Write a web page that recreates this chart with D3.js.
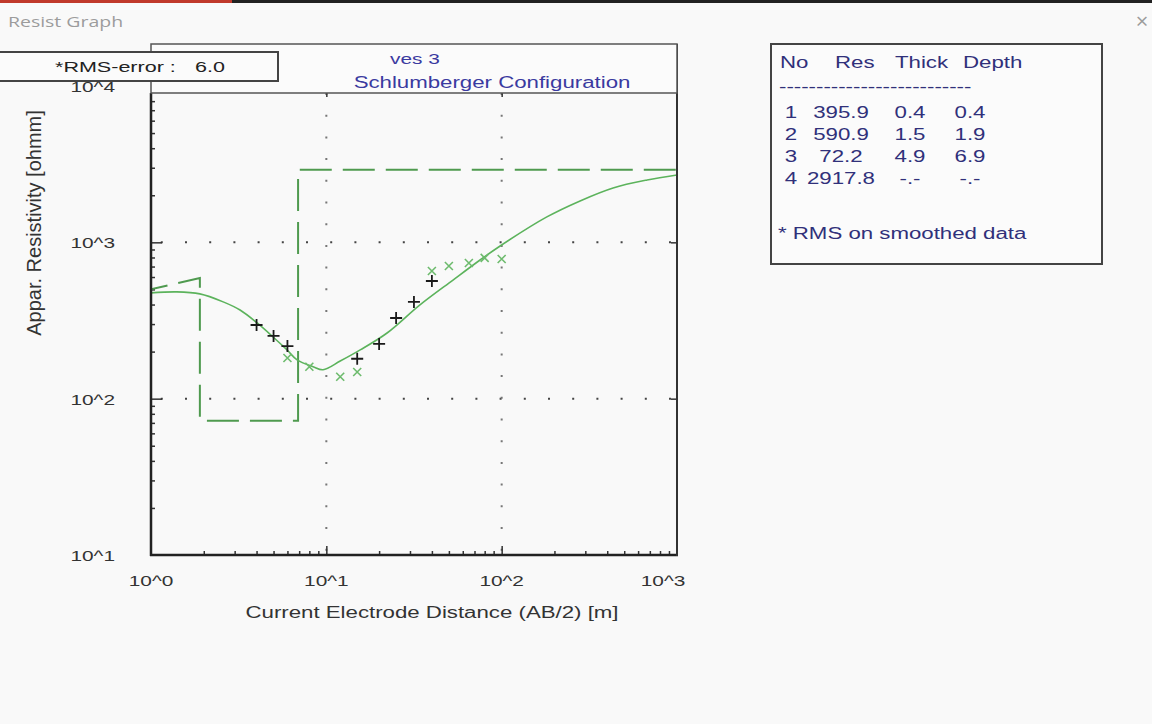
<!DOCTYPE html>
<html>
<head>
<meta charset="utf-8">
<script src="https://cdn.jsdelivr.net/npm/d3@7"></script>
<style>
  html, body { margin: 0; padding: 0; background: #f9f9f9; }
  svg { display: block; font-family: "Liberation Sans", Arial, sans-serif; }
</style>
</head>
<body>
<div id="chart"></div>
<script>
// layer model (table on the right)
const layerNo = [1, 2, 3, 4];
const layerRes = [395.9, 590.9, 72.2, 2917.8];
const layerThick = ["0.4", "1.5", "4.9", "-.-"];
const layerDepth = [0.4, 1.9, 6.9, null];

// calculated curve (solid green)
const calcAB = [1.0, 1.4, 1.9, 2.58, 3.22, 4.03, 4.97, 5.97, 6.81, 8.4, 9.57, 12.0, 15.6, 22.2, 34.2, 52.8, 75.3, 98, 181, 280, 432, 675, 1000];
const calcRho = [475, 482, 468, 416, 369, 305, 248, 205, 177, 160, 153, 174, 205, 263, 398, 574, 771, 948, 1454, 1841, 2228, 2507, 2699];

// field data (+) and smoothed data (x)
const obsAB = [4, 5, 6, 15, 20, 25, 31.6, 40];
const obsRho = [296, 252, 217, 180, 224, 328, 416, 566];
const smAB = [6, 8, 12, 15, 40, 50, 65, 80, 100];
const smRho = [182, 160, 138, 148, 656, 706, 738, 795, 783];

const xTicks = [1, 10, 100, 1000];
const yTicks = [10, 100, 1000, 10000];
const tickLabel = (d) => "10^" + Math.round(Math.log10(d));

const W = 1152, H = 724;
const SX = 1.39; // screenshot is stretched sideways

const svg = d3.select("#chart").append("svg").attr("width", W).attr("height", H);
svg.append("rect").attr("width", W).attr("height", H).attr("fill", "#f9f9f9");

// helper for horizontally stretched text
function txt(x, y, s, fill, anchor, size) {
  return svg.append("text")
    .attr("transform", `translate(${x},${y}) scale(${SX},1)`)
    .attr("text-anchor", anchor || "start")
    .attr("font-size", size || 16)
    .attr("fill", fill)
    .text(s);
}

// window chrome
svg.append("rect").attr("x", 0).attr("y", 0).attr("width", 232).attr("height", 3).attr("fill", "#c0392b");
svg.append("rect").attr("x", 232).attr("y", 0).attr("width", W - 232).attr("height", 3).attr("fill", "#222");
txt(8, 27, "Resist Graph", "#9c9c9c", "start", 14).attr("font-family", "Open Sans");
svg.append("text").attr("x", 1142).attr("y", 29).attr("text-anchor", "middle")
  .attr("font-size", 22).attr("fill", "#9c9c9c").attr("font-family", "Open Sans").text("×");

// scales
const x = d3.scaleLog().domain([1, 1000]).range([151, 677]);
const y = d3.scaleLog().domain([10, 10000]).range([555, 86]);
const plotTop = 93;

svg.append("clipPath").attr("id", "clip").append("rect")
  .attr("x", 151).attr("y", plotTop).attr("width", 526).attr("height", 555 - plotTop);

// dotted grid
const grid = svg.append("g");
[100, 1000].forEach((v) => {
  grid.append("line").attr("x1", 151).attr("x2", 677).attr("y1", y(v)).attr("y2", y(v))
    .attr("stroke", "#444").attr("stroke-width", 2)
    .attr("stroke-dasharray", "2,22.2").attr("stroke-dashoffset", -9.8);
});
[10, 100].forEach((v) => {
  grid.append("line").attr("x1", x(v)).attr("x2", x(v)).attr("y1", plotTop).attr("y2", 555)
    .attr("stroke", "#777").attr("stroke-width", 2)
    .attr("stroke-dasharray", "2,19.7");
});

// ticks
const minorX = [], minorY = [];
[1, 10, 100].forEach((b) => { for (let k = 2; k <= 9; k++) minorX.push(b * k); });
[10, 100, 1000].forEach((b) => { for (let k = 2; k <= 9; k++) if (y(b * k) > plotTop + 2) minorY.push(b * k); });

function tickAxis(axis, tr) {
  const g = svg.append("g").attr("transform", tr).call(axis);
  g.select(".domain").remove();
  g.selectAll(".tick line").attr("stroke", "#333").attr("stroke-width", 1.5);
  return g;
}
tickAxis(d3.axisBottom(x).tickValues(minorX).tickSize(-4).tickFormat(""), "translate(0,555)");
tickAxis(d3.axisBottom(x).tickValues([10, 100]).tickSize(-9).tickFormat(""), "translate(0,555)");
tickAxis(d3.axisTop(x).tickValues([10, 100]).tickSize(-4).tickFormat(""), `translate(0,${plotTop})`);
tickAxis(d3.axisLeft(y).tickValues(minorY).tickSize(-4).tickFormat(""), "translate(151,0)");
tickAxis(d3.axisLeft(y).tickValues([100, 1000]).tickSize(-11).tickFormat(""), "translate(151,0)");
tickAxis(d3.axisRight(y).tickValues([100, 1000]).tickSize(-6).tickFormat(""), "translate(677,0)");

// model (dashed step line)
const modelPts = [[layerDepth[0], layerRes[0]]];
for (let i = 1; i < layerRes.length - 1; i++) {
  modelPts.push([layerDepth[i], layerRes[i]]);
  modelPts.push([layerDepth[i], layerRes[i + 1]]);
}
modelPts.push([x.domain()[1], layerRes[layerRes.length - 1]]);

const plot = svg.append("g").attr("clip-path", "url(#clip)");
plot.append("path")
  .attr("d", d3.line().x((d) => x(d[0])).y((d) => y(d[1]))(modelPts))
  .attr("fill", "none").attr("stroke", "#4f9a4f").attr("stroke-width", 2)
  .attr("stroke-dasharray", "32,11").attr("stroke-dashoffset", 29.5);

// calculated curve
const calc = calcAB.map((d, i) => [d, calcRho[i]]);
plot.append("path")
  .attr("d", d3.line().x((d) => x(d[0])).y((d) => y(d[1])).curve(d3.curveCatmullRom.alpha(0.5))(calc))
  .attr("fill", "none").attr("stroke", "#5cb35c").attr("stroke-width", 1.6);

// smoothed data x
smAB.forEach((d, i) => {
  plot.append("path")
    .attr("transform", `translate(${x(d)},${y(smRho[i])})`)
    .attr("d", "M-4,-4L4,4M-4,4L4,-4")
    .attr("stroke", "#6dbb6d").attr("stroke-width", 1.6).attr("fill", "none");
});
// field data +
obsAB.forEach((d, i) => {
  plot.append("path")
    .attr("transform", `translate(${x(d)},${y(obsRho[i])})`)
    .attr("d", "M-6,0H6M0,-6V6")
    .attr("stroke", "#1a1a1a").attr("stroke-width", 1.8).attr("fill", "none");
});

// frame
svg.append("line").attr("x1", 151).attr("x2", 151).attr("y1", plotTop).attr("y2", 556)
  .attr("stroke", "#222").attr("stroke-width", 2.5);
svg.append("line").attr("x1", 150).attr("x2", 678).attr("y1", 555).attr("y2", 555)
  .attr("stroke", "#222").attr("stroke-width", 2.5);
svg.append("line").attr("x1", 677).attr("x2", 677).attr("y1", 44).attr("y2", 556)
  .attr("stroke", "#333").attr("stroke-width", 2);

// title box
svg.append("rect").attr("x", 151).attr("y", 44).attr("width", 526).attr("height", plotTop - 44)
  .attr("fill", "#fbfbfb").attr("stroke", "#555").attr("stroke-width", 1.5);
txt(415, 64, "ves 3", "#3a3aa0", "middle", 15);
txt(492, 88, "Schlumberger Configuration", "#3a3aa0", "middle", 16);

// RMS box
svg.append("rect").attr("x", -2).attr("y", 52).attr("width", 280).attr("height", 29)
  .attr("fill", "#fbfbfb").attr("stroke", "#444").attr("stroke-width", 2);
txt(55, 72, "*RMS-error :", "#222", "start", 15.5);
txt(195, 72, "6.0", "#222", "start", 15.5);

// tick labels
yTicks.forEach((v) => txt(115, y(v) + 6, tickLabel(v), "#333", "end", 15));
xTicks.forEach((v) => txt(Math.min(x(v), 663), 586, tickLabel(v), "#333", "middle", 15));

// axis titles
txt(432, 618, "Current Electrode Distance (AB/2) [m]", "#333", "middle", 16);
svg.append("text")
  .attr("transform", "translate(41,223) rotate(-90) scale(1.25,1.3)")
  .attr("text-anchor", "middle").attr("font-size", 16).attr("fill", "#333")
  .text("Appar. Resistivity [ohmm]");

// layer table
svg.append("rect").attr("x", 771).attr("y", 44).attr("width", 331).attr("height", 220)
  .attr("fill", "#fbfbfb").attr("stroke", "#444").attr("stroke-width", 2);
const navy = "#30307a";
txt(780, 68, "No", navy);
txt(835, 68, "Res", navy);
txt(895, 68, "Thick", navy);
txt(963, 68, "Depth", navy);
txt(779, 92, "--------------------------", navy, "start", 16);
layerNo.forEach((n, i) => {
  const yy = 118 + i * 22;
  txt(791, yy, n, navy, "middle");
  txt(841, yy, layerRes[i].toFixed(1), navy, "middle");
  txt(910, yy, layerThick[i], navy, "middle");
  txt(970, yy, layerDepth[i] == null ? "-.-" : layerDepth[i].toFixed(1), navy, "middle");
});
txt(778, 239, "* RMS on smoothed data", navy);
</script>
</body>
</html>
